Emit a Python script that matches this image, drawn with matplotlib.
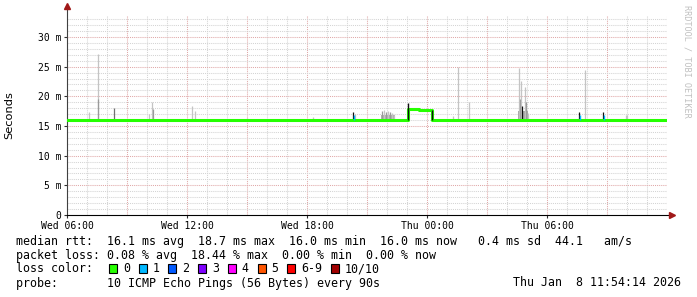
import numpy as np
import matplotlib
matplotlib.use('Agg')
import matplotlib.pyplot as plt
from matplotlib.patches import Rectangle

# time in hours after Wed 06:00, rtt in ms
median_hours = [0, 17.05, 17.6, 18.25, 29.9]
median_ms = [16.0, 17.9, 17.7, 16.0, 16.0]

# smoke spikes: hour, top (ms), shade
spike_hours = [1.1, 1.55, 1.55, 2.37, 4.1, 4.25, 4.3, 6.27, 6.4, 9.0, 12.3, 14.28, 14.4,
               15.75, 15.85, 15.95, 16.05, 16.15, 16.25, 16.35, 19.3, 19.57, 20.12,
               22.6, 22.65, 22.72, 22.75, 22.9, 22.95, 23.05, 25.6, 25.9, 26.8, 27.95, 28.0]
spike_top = [17.4, 27.2, 19.6, 18.1, 17.0, 19.0, 17.8, 18.4, 17.6, 16.4, 16.5, 17.3, 17.0,
             17.5, 17.7, 17.3, 17.6, 17.4, 17.2, 16.9, 16.6, 25.0, 19.1,
             24.8, 19.5, 22.6, 18.4, 21.6, 19.0, 17.2, 17.4, 24.4, 17.3, 16.9, 16.9]
spike_shade = ['l', 'l', 'm', 'd', 'l', 'l', 'm', 'l', 'l', 'l', 'l', 'k', 'l',
               'm', 'l', 'm', 'l', 'm', 'l', 'l', 'l', 'l', 'l',
               'l', 'm', 'l', 'k', 'l', 'm', 'l', 'k', 'l', 'k', 'l', 'l']
shades = {'l': '#c4c4c4', 'm': '#9a9a9a', 'd': '#707070', 'k': '#101010'}

# loss-colored marks
loss_hours = [14.35, 25.65, 26.85]
loss_top = [16.9, 16.9, 16.9]

loss_labels = ['0', '1', '2', '3', '4', '5', '6-9', '10/10']
loss_colors = ['#26ff00', '#00b8ff', '#0059ff', '#7e00ff', '#ff00ff', '#ff5500', '#ff0000', '#a10000']

tick_hours = [0, 6, 12, 18, 24]
tick_labels = ['Wed 06:00', 'Wed 12:00', 'Wed 18:00', 'Thu 00:00', 'Thu 06:00']

mono = 'DejaVu Sans Mono'
fig = plt.figure(figsize=(6.97, 2.97), dpi=100)
ax = fig.add_axes([67 / 697, 82 / 297, 600 / 697, 200 / 297])
ax.set_xlim(0, 30)
ax.set_ylim(0, 33.7)

# grid
for h in range(1, 31):
    c = '#e0a8a8' if h % 3 == 0 else '#d4d4d4'
    ax.axvline(h, color=c, lw=0.75, ls=(0, (1, 1)), zorder=0)
for v in range(1, 34):
    c = '#e0a8a8' if v % 5 == 0 else '#d4d4d4'
    ax.axhline(v, color=c, lw=0.75, ls=(0, (1, 1)), zorder=0)

# smoke
for h, t, s in zip(spike_hours, spike_top, spike_shade):
    ax.vlines(h, 15.9, t, color=shades[s], lw=0.9, zorder=2)
ax.fill_between([15.7, 16.4], 16.0, 16.9, color='#b0b0b0', lw=0, zorder=1)
ax.fill_between([22.55, 23.05], 16.0, 17.6, color='#a8a8a8', lw=0, zorder=1)

# median line
ax.plot(median_hours, median_ms, drawstyle='steps-post', color='#26ff00', lw=2.2, zorder=3)
ax.vlines([17.05, 18.25], 16.0, [18.9, 17.7], color='#101010', lw=1.0, zorder=4)
ax.vlines(loss_hours, 16.0, loss_top, color='#00b8ff', lw=1.0, zorder=4)

# axes
for s in ['top', 'right']:
    ax.spines[s].set_visible(False)
ax.spines['left'].set_color('#404040')
ax.spines['bottom'].set_color('black')
ax.spines['left'].set_bounds(0, 35.0)
ax.spines['bottom'].set_bounds(0, 30.2)
ax.plot([0], [35.2], marker='^', color='#a01818', ms=5, clip_on=False, zorder=5)
ax.plot([30.25], [0], marker='>', color='#a01818', ms=5, clip_on=False, zorder=5)

ax.set_xticks(tick_hours)
ax.set_xticklabels(tick_labels, fontsize=7, family=mono)
yt = [0, 5, 10, 15, 20, 25, 30]
ax.set_yticks(yt)
ax.set_yticklabels(['0'] + ['%d m' % v for v in yt[1:]], fontsize=7, family=mono)
ax.tick_params(axis='both', length=2, width=0.8, pad=2, colors='#303030')
ax.tick_params(axis='x', labelcolor='black')
ax.tick_params(axis='y', labelcolor='black')
ax.set_ylabel('Seconds', fontsize=8.2, labelpad=17)

fig.text(687 / 697, 1 - 5 / 297, 'RRDTOOL / TOBI OETIKER', rotation=270, ha='center', va='top',
         fontsize=6.1, family=mono, color='#c0c0c0')

# legend text
fs = 8.4
cw = 7.02
x0 = 16
rows = [241, 255, 269, 283]


def put(col, row, s, **kw):
    fig.text((x0 + col * cw) / 697, 1 - rows[row] / 297, s, fontsize=fs, family=mono, va='center', **kw)


put(0, 0, 'median rtt:  16.1 ms avg  18.7 ms max  16.0 ms min  16.0 ms now   0.4 ms sd  44.1   am/s')
put(0, 1, 'packet loss: 0.08 % avg  18.44 % max  0.00 % min  0.00 % now')
put(0, 2, 'loss color:')
put(0, 3, 'probe:       10 ICMP Echo Pings (56 Bytes) every 90s')
fig.text(681 / 697, 1 - rows[3] / 297, 'Thu Jan  8 11:54:14 2026', fontsize=fs, family=mono,
         va='center', ha='right')

bx = 109
for lab, col in zip(loss_labels, loss_colors):
    fig.patches.append(Rectangle((bx / 697, 1 - (rows[2] + 4) / 297), 8 / 697, 9 / 297,
                                 transform=fig.transFigure, facecolor=col, edgecolor='black', lw=0.8))
    fig.text((bx + 14) / 697, 1 - rows[2] / 297, lab, fontsize=fs, family=mono, va='center')
    bx += 22.7 + cw * len(lab)

fig.savefig('out.png', dpi=100)
